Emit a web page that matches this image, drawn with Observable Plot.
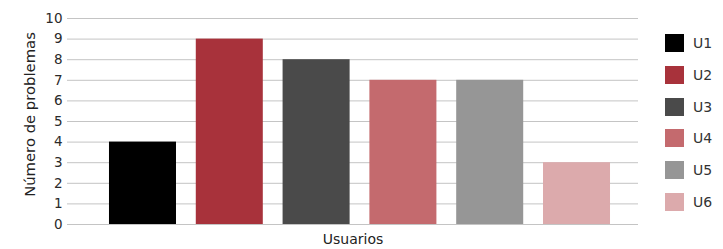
<!DOCTYPE html>
<html>
<head>
<meta charset="utf-8">
<script src="https://cdn.jsdelivr.net/npm/d3@7"></script>
<script src="https://cdn.jsdelivr.net/npm/@observablehq/plot@0.6"></script>
<style>
  body { margin: 0; background: #fff; font-family: "DejaVu Sans", sans-serif; }
  #wrap { position: relative; width: 723px; height: 249px; }
  #legend { position: absolute; left: 665px; top: 34px; }
  .item { position: relative; height: 31.8px; }
  .sw { position: absolute; left: 0; top: 0; width: 19px; height: 18px; }
  .lab { position: absolute; left: 28px; top: 0; line-height: 18px; font-size: 14px; color: #333; }
</style>
</head>
<body>
<div id="wrap"><div id="legend"></div></div>
<script>
const categories = ["U1", "U2", "U3", "U4", "U5", "U6"];
const values = [4, 9, 8, 7, 7, 3];
const colors = ["#000000", "#a8323b", "#4a4a4a", "#c46a6e", "#969696", "#dcaaac"];
const yTicks = [0, 1, 2, 3, 4, 5, 6, 7, 8, 9, 10];
const xLabel = "Usuarios";
const yLabel = "Número de problemas";

const data = categories.map((c, i) => ({cat: c, value: values[i]}));

const chart = Plot.plot({
  width: 723,
  height: 249,
  marginLeft: 67,
  marginRight: 85,
  marginTop: 18,
  marginBottom: 25,
  style: {fontFamily: "DejaVu Sans, sans-serif", fontSize: "13px", color: "#2a2a2a"},
  x: {domain: categories, paddingInner: 0.228, paddingOuter: 0.403, align: 0.6, round: false, axis: null},
  y: {domain: [0, 10], axis: null},
  color: {domain: categories, range: colors},
  marks: [
    Plot.ruleY(yTicks, {stroke: "#c4c4c4", strokeWidth: 1}),
    Plot.barY(data, {x: "cat", y: "value", fill: "cat"}),
    Plot.axisY({ticks: yTicks, tickSize: 0, tickPadding: 5, label: null, fontSize: 13.5}),
    Plot.text([xLabel], {frameAnchor: "bottom", dy: 19, fontSize: 14, fill: "#222"}),
    Plot.text([yLabel], {frameAnchor: "left", textAnchor: "middle", rotate: -90, dx: -37, dy: -7, fontSize: 14.8, fill: "#222"})
  ]
});
document.getElementById("wrap").prepend(chart);

const legend = d3.select("#legend");
categories.forEach((c, i) => {
  const it = legend.append("div").attr("class", "item");
  it.append("div").attr("class", "sw").style("background", colors[i]);
  it.append("div").attr("class", "lab").text(c);
});
</script>
</body>
</html>
